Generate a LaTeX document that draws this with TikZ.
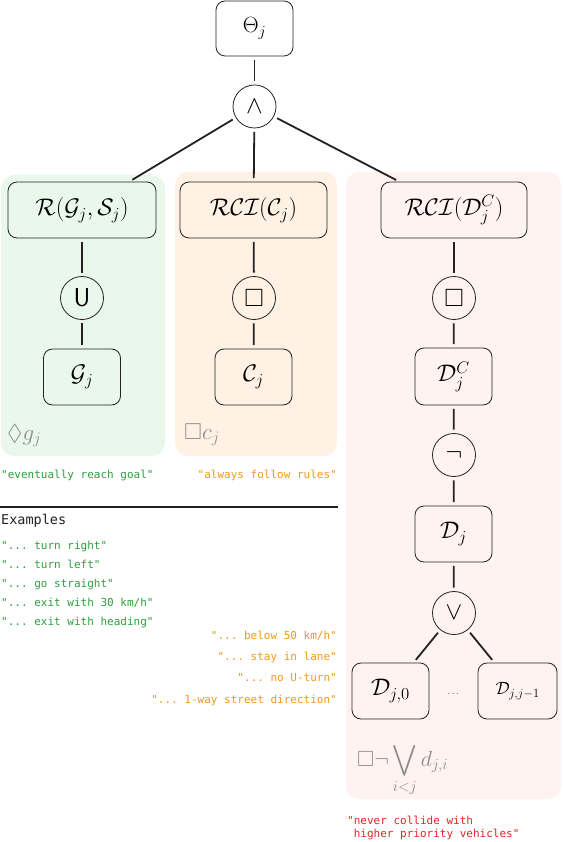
\documentclass[tikz,border=0pt]{standalone}
\usepackage{fix-cm}
\usepackage{amsmath,amssymb}
\usepackage{fontspec}
\newfontfamily\monofont{DejaVu Sans Mono}
\definecolor{pgreen}{RGB}{234,248,236}
\definecolor{porange}{RGB}{255,242,228}
\definecolor{ppink}{RGB}{255,243,242}
\definecolor{tgreen}{RGB}{46,158,62}
\definecolor{torange}{RGB}{243,152,28}
\definecolor{tred}{RGB}{226,38,38}
\definecolor{lgray}{RGB}{140,140,140}
\definecolor{ink}{RGB}{34,34,34}
\newcommand{\mfont}{\fontsize{24}{28}\selectfont}
\newcommand{\ofont}{\fontsize{25}{29}\selectfont}
\newcommand{\gfont}{\fontsize{23}{27}\selectfont}
\newcommand{\tfont}{\monofont\fontsize{11}{13}\selectfont}
\begin{document}
\begin{tikzpicture}[x=1pt,y=-1pt,
  box/.style={draw=ink, line width=0.8pt, rounded corners=9pt, minimum width=77pt, minimum height=56pt, inner sep=0pt, font=\mfont},
  wbox/.style={box, minimum width=147pt},
  op/.style={circle, draw=ink, line width=0.8pt, minimum size=43pt, inner sep=0pt, font=\ofont},
  conn/.style={draw=ink, line width=1.8pt, shorten <=3.5pt, shorten >=3.5pt},
  panel/.style={rounded corners=13pt},
  lab/.style={text=lgray, font=\gfont, inner sep=0pt, anchor=base west},
  mono/.style={font=\tfont, inner sep=0pt, text height=8pt, text depth=2.5pt},
]
\useasboundingbox (0,0) rectangle (562,842);
% panels
\fill[pgreen, panel] (1,175) rectangle (165,456);
\fill[porange, panel] (175,172) rectangle (337,456);
\fill[ppink, panel] (346,172) rectangle (561,799);
% nodes
\node[box, minimum height=55pt, font=\fontsize{22}{26}\selectfont] (theta) at (254.5,28.5) {$\Theta_j$};
\node[op] (and) at (254.5,106.5) {$\wedge$};
\node[wbox, minimum width=148pt] (r) at (82,210) {$\mathcal{R}(\mathcal{G}_j,\mathcal{S}_j)$};
\node[op, font=\fontsize{26}{30}\selectfont] (until) at (82,298) {$\mathsf{U}$};
\node[box] (g) at (82,377) {$\mathcal{G}_j$};
\node[lab] (gl) at (7,440) {$\Diamond g_j$};
\node[wbox] (rc) at (253.5,210) {$\mathcal{RCI}(\mathcal{C}_j)$};
\node[op] (alw1) at (254,298) {$\square$};
\node[box] (c) at (253.5,377) {$\mathcal{C}_j$};
\node[lab] (cl) at (184,439) {$\square c_j$};
\node[wbox, minimum width=146pt] (rd) at (454,210) {$\mathcal{RCI}(\mathcal{D}^C_j)$};
\node[op] (alw2) at (454,298) {$\square$};
\node[box, minimum height=57pt] (dc) at (453.5,376.5) {$\mathcal{D}^C_j$};
\node[op] (neg) at (454,455) {$\neg$};
\node[box] (d) at (453.5,534) {$\mathcal{D}_j$};
\node[op] (or) at (454,613) {$\vee$};
\node[box] (d0) at (390.5,691) {$\mathcal{D}_{j,0}$};
\node[box, minimum width=79pt] (dj) at (517.5,691) {\scalebox{0.74}{$\mathcal{D}_{j,j-1}$}};
\node[font=\fontsize{10}{12}\selectfont, text=black!70, inner sep=0pt, anchor=base] (dots) at (454,694) {$\dots$};
\node[lab, font=\fontsize{22}{26}\selectfont] (dl) at (357,766) {$\displaystyle\square\neg\bigvee_{i<j} d_{j,i}$};
% connectors
\draw[conn] (theta) -- (and);
\draw[conn] (and) -- (r);
\draw[conn] (and) -- (rc);
\draw[conn] (and) -- (rd);
\draw[conn] (r) -- (until);
\draw[conn] (until) -- (g);
\draw[conn] (rc) -- (alw1);
\draw[conn] (alw1) -- (c);
\draw[conn] (rd) -- (alw2);
\draw[conn] (alw2) -- (dc);
\draw[conn] (dc) -- (neg);
\draw[conn] (neg) -- (d);
\draw[conn] (d) -- (or);
\draw[conn] (or) -- (d0);
\draw[conn] (or) -- (dj);
% texts
\node[mono, text=tgreen, anchor=west] (goal) at (1,476) {"eventually reach goal"};
\node[mono, text=torange, anchor=east] (rules) at (337,476) {"always follow rules"};
\draw[draw=ink, line width=2pt] (0,507) -- (338,507);
\node[mono, font=\monofont\fontsize{13.5}{16}\selectfont, text=ink, anchor=west] (ex) at (1,522) {Examples};
\node[mono, text=tgreen, anchor=west] (e1) at (1,547) {"...\ turn right"};
\node[mono, text=tgreen, anchor=west] (e2) at (1,566) {"...\ turn left"};
\node[mono, text=tgreen, anchor=west] (e3) at (1,585) {"...\ go straight"};
\node[mono, text=tgreen, anchor=west] (e4) at (1,604) {"...\ exit with 30 km/h"};
\node[mono, text=tgreen, anchor=west] (e5) at (1,623) {"...\ exit with heading"};
\node[mono, text=torange, anchor=east] (o1) at (337,637) {"...\ below 50 km/h"};
\node[mono, text=torange, anchor=east] (o2) at (337,658) {"...\ stay in lane"};
\node[mono, text=torange, anchor=east] (o3) at (337,679) {"...\ no U-turn"};
\node[mono, text=torange, anchor=east] (o4) at (337,701) {"...\ 1-way street direction"};
\node[mono, text=tred, anchor=west] (n1) at (347,822) {"never collide with};
\node[mono, text=tred, anchor=west] (n2) at (347,835) {\ higher priority vehicles"};
\end{tikzpicture}
\end{document}
